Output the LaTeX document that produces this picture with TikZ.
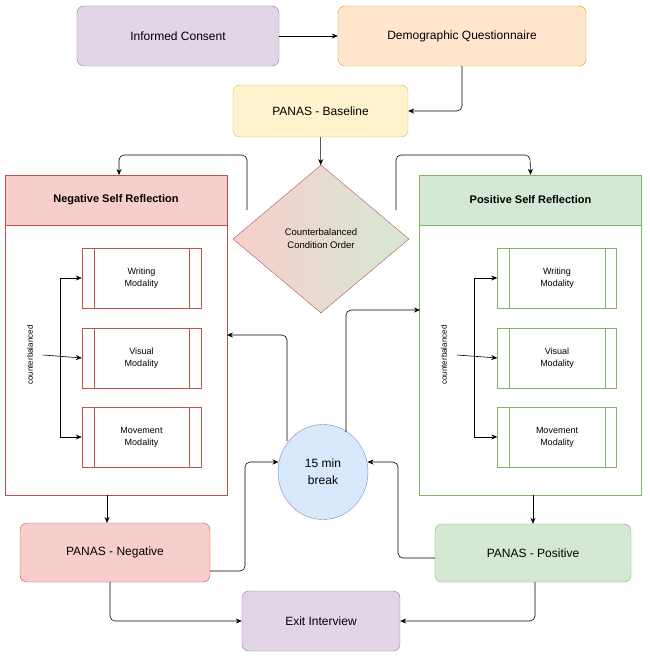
\documentclass[tikz,border=0pt]{standalone}
\usepackage{fontspec}
\setmainfont{Liberation Sans}
\usetikzlibrary{shapes.geometric,arrows.meta}
\definecolor{purpleFill}{HTML}{E1D5E7}\definecolor{purpleLine}{HTML}{9673A6}
\definecolor{orangeFill}{HTML}{FFE6CC}\definecolor{orangeLine}{HTML}{D79B00}
\definecolor{yellowFill}{HTML}{FFF2CC}\definecolor{yellowLine}{HTML}{D6B656}
\definecolor{redFill}{HTML}{F8CECC}\definecolor{redLine}{HTML}{B85450}
\definecolor{greenFill}{HTML}{D5E8D4}\definecolor{greenLine}{HTML}{82B366}
\definecolor{blueFill}{HTML}{DAE8FC}\definecolor{blueLine}{HTML}{6C8EBF}
\tikzset{
  stage/.style={draw, rounded corners=7pt, font=\fontsize{12}{14}\selectfont, inner sep=0pt},
  modality/.style={draw, minimum width=119pt, minimum height=60pt, inner sep=0pt,
    align=center, font=\fontsize{9}{12}\selectfont},
  link/.style={-{Stealth[length=6pt,width=5pt]}, rounded corners=5pt, line width=0.6pt},
}
\begin{document}
\begin{tikzpicture}[x=1pt,y=-1pt]
\useasboundingbox (0,0) rectangle (649,663);

% Top row
\node[stage, fill=purpleFill, draw=purpleLine, minimum width=202pt, minimum height=60pt] (consent) at (178,36) {Informed Consent};
\node[stage, fill=orangeFill, draw=orangeLine, minimum width=248pt, minimum height=60pt] (demo) at (462,36) {Demographic Questionnaire};
\node[stage, fill=yellowFill, draw=yellowLine, minimum width=175pt, minimum height=52pt] (baseline) at (320.5,111) {PANAS - Baseline};

% Decision
\node[diamond, aspect=1.19, minimum width=176pt, minimum height=148pt, inner sep=0pt,
  draw=redLine, shading=axis, left color=redFill, right color=greenFill,
  align=center, font=\fontsize{9.5}{13}\selectfont] (order) at (321,239) {Counterbalanced\\Condition Order};

% Containers
\foreach \side/\cx/\fillc/\linec/\title in {neg/116/redFill/redLine/Negative, pos/530.5/greenFill/greenLine/Positive}{
  \node[draw=\linec, minimum width=222pt, minimum height=320pt, inner sep=0pt] (\side) at (\cx,335) {};
  \node[draw=\linec, fill=\fillc, minimum width=222pt, minimum height=50pt, inner sep=0pt,
    font=\bfseries\fontsize{11}{13}\selectfont] (\side head) at (\cx,200) {\title\ Self Reflection};
}
\foreach \side/\bx/\lx/\sx/\linec in {neg/141.5/30/60/redLine, pos/557/444/474/greenLine}{
  \foreach \name/\by/\label in {writing/278/Writing, visual/358/Visual, movement/437/Movement}{
    \node[modality, draw=\linec] (\side\name) at (\bx,\by) {\label\\Modality};
    \draw[draw=\linec] ([xshift=12pt]\side\name.north west) -- ([xshift=12pt]\side\name.south west)
      ([xshift=-12pt]\side\name.north east) -- ([xshift=-12pt]\side\name.south east);
  }
  \node[rotate=90, font=\fontsize{8}{10}\selectfont] (\side cb) at (\lx,355) {counterbalanced};
  \coordinate (\side split) at (\sx,355);
  \draw[link] ([xshift=13pt]\side cb.center) -- (\side visual.west);
  \draw[link, rounded corners=0pt] (\side split) |- (\side writing.west);
  \draw[link, rounded corners=0pt] (\side split) |- (\side movement.west);
}

% Break and results
\node[ellipse, draw=blueLine, fill=blueFill, minimum width=90pt, minimum height=95pt, inner sep=0pt,
  align=center, font=\fontsize{12}{17}\selectfont] (break) at (323,472) {15 min\\break};
\node[stage, fill=redFill, draw=redLine, minimum width=190pt, minimum height=59pt] (panasneg) at (115,552.5) {PANAS - Negative};
\node[stage, fill=greenFill, draw=greenLine, minimum width=196pt, minimum height=58pt] (panaspos) at (533,553) {PANAS - Positive};
\node[stage, fill=purpleFill, draw=purpleLine, minimum width=158pt, minimum height=60pt] (exit) at (321,621) {Exit Interview};

% Connectors
\coordinate (negleft) at (247,210);
\coordinate (posright) at (396,210);
\coordinate (negin) at (119,175);
\coordinate (negout) at (107,495);
\coordinate (posout) at (533,495);
\draw[link] (consent) -- (demo);
\draw[link] (demo.south) |- (baseline.east);
\draw[link] (baseline) -- (order);
\draw[link] (negleft) |- (119,155) -- (negin);
\draw[link] (posright) |- (530,155) -- (pos.north);
\draw[link] (negout) -- (107,523);
\draw[link] (posout) -- (panaspos.north);
\draw[link] (210,571) -| (245,462) -- (278.5,462);
\draw[link] (435,558) -| (398,462) -- (367.5,462);
\draw[link] (287,441) |- (227,335);
\draw[link] (346,432) |- (420,310);
\draw[link] (110,582) |- (exit.west);
\draw[link] (535,582) |- (exit.east);
\end{tikzpicture}
\end{document}
